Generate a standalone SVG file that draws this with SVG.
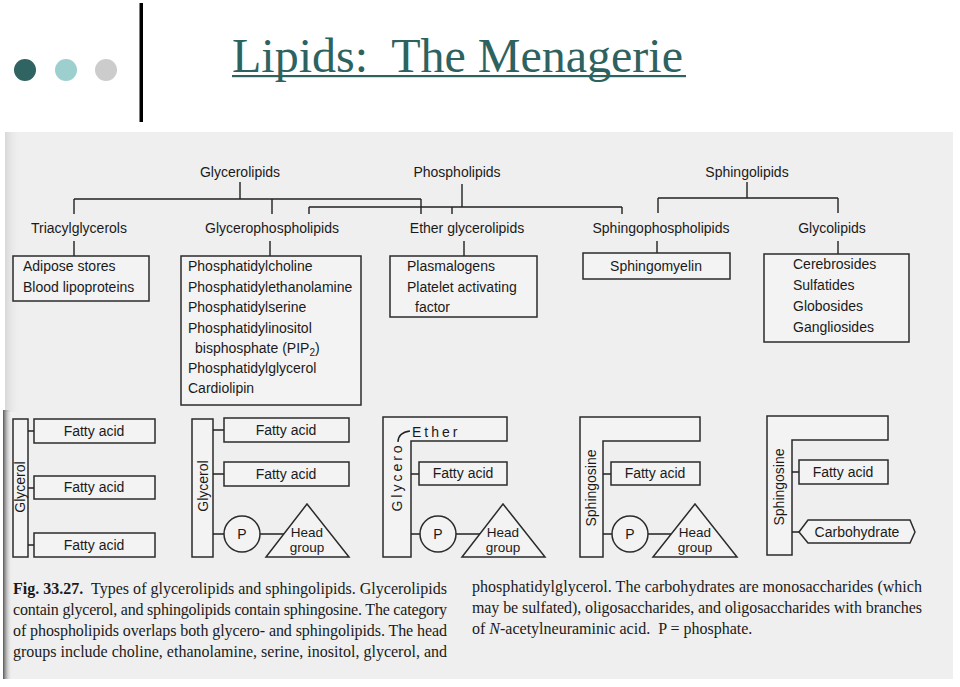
<svg xmlns="http://www.w3.org/2000/svg" width="960" height="687" viewBox="0 0 960 687">
<defs>
<linearGradient id="edge" x1="0" y1="0" x2="1" y2="0">
<stop offset="0" stop-color="#555"/>
<stop offset="1" stop-color="#efefef" stop-opacity="0"/>
</linearGradient>
<linearGradient id="edgeTop" x1="0" y1="0" x2="1" y2="0">
<stop offset="0" stop-color="#d8d8d8"/>
<stop offset="1" stop-color="#efefef" stop-opacity="0"/>
</linearGradient>
</defs>
<style>
.lbl{font-family:"Liberation Sans",Arial,sans-serif;font-size:14px;fill:#1a1a1a}
.hg{font-family:"Liberation Sans",Arial,sans-serif;font-size:13.5px;fill:#1a1a1a;text-anchor:middle}
.mid{text-anchor:middle}
.box{fill:#f3f3f3;stroke:#2b2b2b;stroke-width:1.5}
.ln{stroke:#222;stroke-width:1.4;fill:none}
.cap{font-family:"Liberation Serif","Times New Roman",serif;font-size:16px;fill:#1a1a1a}
.pre{white-space:pre}
</style>
<rect x="0" y="0" width="960" height="687" fill="#ffffff"/>
<!-- header -->
<g id="header">
<circle cx="25" cy="70" r="11" fill="#2F6462"/>
<circle cx="66" cy="70" r="11" fill="#9ECFCF"/>
<circle cx="106" cy="70" r="11" fill="#CCCCCC"/>
<rect x="139.5" y="3" width="3.5" height="119" fill="#000"/>
<text x="232" y="72" class="pre" font-family="Liberation Serif,'Times New Roman',serif" font-size="48" fill="#2E625F">Lipids:  The Menagerie</text>
<rect x="232" y="75" width="454" height="2.2" fill="#2E625F"/>
</g>
<!-- scanned page -->
<g id="page">
<rect x="5" y="132" width="948" height="547" fill="#efefef"/>
<rect x="5" y="132" width="16" height="280" fill="url(#edgeTop)"/>
<rect x="3" y="410" width="9" height="269" fill="url(#edge)"/>
</g>
<!-- connectors -->
<g id="connectors">
<path class="ln" d="M240,182 V199 M74,199 H421 M74,199 V214 M272,199 V214 M421,199 V214"/>
<path class="ln" d="M462,184 V207 M309,207 H622 M309,207 V214 M452,207 V214 M622,207 V214"/>
<path class="ln" d="M747,182 V198 M658,198 H838 M658,198 V213 M838,198 V213"/>
<path class="ln" d="M74,241 V256 M270,241 V256 M464,241 V256 M657,241 V253 M838,241 V254"/>
</g>
<!-- level 1 -->
<g id="n-glycerolipids"><text class="lbl mid" x="240" y="177">Glycerolipids</text></g>
<g id="n-phospholipids"><text class="lbl mid" x="457" y="177">Phospholipids</text></g>
<g id="n-sphingolipids"><text class="lbl mid" x="747" y="177">Sphingolipids</text></g>
<!-- level 2 -->
<g id="n-triacyl"><text class="lbl mid" x="79" y="233">Triacylglycerols</text></g>
<g id="n-glycerophospho"><text class="lbl mid" x="272" y="233">Glycerophospholipids</text></g>
<g id="n-ether"><text class="lbl mid" x="467" y="233">Ether glycerolipids</text></g>
<g id="n-sphingophospho"><text class="lbl mid" x="661" y="233">Sphingophospholipids</text></g>
<g id="n-glycolipids"><text class="lbl mid" x="832" y="233">Glycolipids</text></g>
<!-- boxes -->
<g id="b-adipose">
<rect class="box" x="13" y="256" width="136" height="45"/>
<text class="lbl" x="23" y="271">Adipose stores</text>
<text class="lbl" x="23" y="292">Blood lipoproteins</text>
</g>
<g id="b-glycerophospho">
<rect class="box" x="181" y="256" width="180" height="149"/>
<text class="lbl" x="188" y="271">Phosphatidylcholine</text>
<text class="lbl" x="188" y="292">Phosphatidylethanolamine</text>
<text class="lbl" x="188" y="312">Phosphatidylserine</text>
<text class="lbl" x="188" y="333">Phosphatidylinositol</text>
<text class="lbl" x="195" y="353">bisphosphate (PIP<tspan font-size="10" dy="3">2</tspan><tspan dy="-3">)</tspan></text>
<text class="lbl" x="188" y="373">Phosphatidylglycerol</text>
<text class="lbl" x="188" y="393">Cardiolipin</text>
</g>
<g id="b-ether">
<rect class="box" x="390" y="256" width="147" height="61"/>
<text class="lbl" x="407" y="271">Plasmalogens</text>
<text class="lbl" x="407" y="292">Platelet activating</text>
<text class="lbl" x="415" y="312">factor</text>
</g>
<g id="b-sphingomyelin">
<rect class="box" x="583" y="253" width="147" height="26"/>
<text class="lbl mid" x="656" y="271">Sphingomyelin</text>
</g>
<g id="b-glycolipids">
<rect class="box" x="764" y="254" width="145" height="88"/>
<text class="lbl" x="793" y="269">Cerebrosides</text>
<text class="lbl" x="793" y="290">Sulfatides</text>
<text class="lbl" x="793" y="311">Globosides</text>
<text class="lbl" x="793" y="332">Gangliosides</text>
</g>
<!-- structure 1: triacylglycerol -->
<g id="s-triacyl">
<rect class="box" x="13" y="419" width="15" height="138"/>
<text class="lbl mid" font-size="13" transform="translate(25,487) rotate(-90)">Glycerol</text>
<path class="ln" d="M28,431 H34 M28,488 H34 M28,545 H34"/>
<rect class="box" x="34" y="419" width="121" height="24"/>
<text class="lbl mid" x="94" y="436">Fatty acid</text>
<rect class="box" x="34" y="476" width="121" height="23"/>
<text class="lbl mid" x="94" y="492">Fatty acid</text>
<rect class="box" x="34" y="533" width="121" height="24"/>
<text class="lbl mid" x="94" y="550">Fatty acid</text>
</g>
<!-- structure 2: glycerophospholipid -->
<g id="s-glycerophospho">
<rect class="box" x="192" y="419" width="21" height="138"/>
<text class="lbl mid" transform="translate(208,486) rotate(-90)">Glycerol</text>
<path class="ln" d="M213,430 H224 M213,474 H224 M213,534 H224 M260,534 H284"/>
<rect class="box" x="224" y="418" width="125" height="24"/>
<text class="lbl mid" x="286" y="435">Fatty acid</text>
<rect class="box" x="224" y="462" width="125" height="24"/>
<text class="lbl mid" x="286" y="479">Fatty acid</text>
<circle class="box" cx="242" cy="534" r="18"/>
<text class="lbl mid" x="242" y="539">P</text>
<polygon class="box" points="307,504 349,557 266,557"/>
<text class="hg" x="307" y="537">Head</text>
<text class="hg" x="307" y="552">group</text>
</g>
<!-- structure 3: ether glycerolipid -->
<g id="s-ether">
<polygon class="box" points="383,417 507,417 507,441 411,441 411,557 383,557"/>
<text class="lbl mid" letter-spacing="3" transform="translate(402,477) rotate(-90)">Glycero</text>
<text class="lbl" letter-spacing="3" x="412" y="437">Ether</text>
<path class="ln" stroke-width="1.1" d="M398,442 C398,436 402,432 410,431"/>
<path class="ln" d="M411,474 H419 M411,534 H420 M456,534 H480"/>
<rect class="box" x="419" y="462" width="88" height="23"/>
<text class="lbl mid" x="463" y="478">Fatty acid</text>
<circle class="box" cx="438" cy="534" r="18"/>
<text class="lbl mid" x="438" y="539">P</text>
<polygon class="box" points="503,504 545,557 462,557"/>
<text class="hg" x="503" y="537">Head</text>
<text class="hg" x="503" y="552">group</text>
</g>
<!-- structure 4: sphingophospholipid -->
<g id="s-sphingophospho">
<polygon class="box" points="580,417 700,417 700,441 603,441 603,557 580,557"/>
<text class="lbl mid" font-size="13" transform="translate(596,488) rotate(-90)">Sphingosine</text>
<path class="ln" d="M603,474 H611 M603,534 H612 M648,534 H672"/>
<rect class="box" x="611" y="462" width="89" height="23"/>
<text class="lbl mid" x="655" y="478">Fatty acid</text>
<circle class="box" cx="630" cy="534" r="18"/>
<text class="lbl mid" x="630" y="539">P</text>
<polygon class="box" points="695,504 737,557 653,557"/>
<text class="hg" x="695" y="537">Head</text>
<text class="hg" x="695" y="552">group</text>
</g>
<!-- structure 5: glycolipid -->
<g id="s-glycolipid">
<polygon class="box" points="767,416 888,416 888,440 792,440 792,555 767,555"/>
<text class="lbl mid" font-size="13" transform="translate(784,487) rotate(-90)">Sphingosine</text>
<path class="ln" d="M792,472 H799 M792,532 H799"/>
<rect class="box" x="799" y="460" width="89" height="24"/>
<text class="lbl mid" x="843" y="477">Fatty acid</text>
<polygon class="box" points="799,532 808,520 910,520 915,532 910,543 808,543"/>
<text class="lbl mid" x="857" y="537">Carbohydrate</text>
</g>
<!-- caption -->
<g id="caption">
<text class="cap pre" x="13" y="594" textLength="434" lengthAdjust="spacing"><tspan font-weight="bold">Fig. 33.27.</tspan>  Types of glycerolipids and sphingolipids. Glycerolipids</text>
<text class="cap" x="13" y="615" textLength="434" lengthAdjust="spacing">contain glycerol, and sphingolipids contain sphingosine. The category</text>
<text class="cap" x="13" y="636" textLength="434" lengthAdjust="spacing">of phospholipids overlaps both glycero- and sphingolipids. The head</text>
<text class="cap" x="13" y="657" textLength="434" lengthAdjust="spacing">groups include choline, ethanolamine, serine, inositol, glycerol, and</text>
<text class="cap" x="472" y="592" textLength="450" lengthAdjust="spacing">phosphatidylglycerol. The carbohydrates are monosaccharides (which</text>
<text class="cap" x="472" y="613" textLength="450" lengthAdjust="spacing">may be sulfated), oligosaccharides, and oligosaccharides with branches</text>
<text class="cap pre" x="472" y="634">of <tspan font-style="italic">N</tspan>-acetylneuraminic acid.  P = phosphate.</text>
</g>
</svg>
